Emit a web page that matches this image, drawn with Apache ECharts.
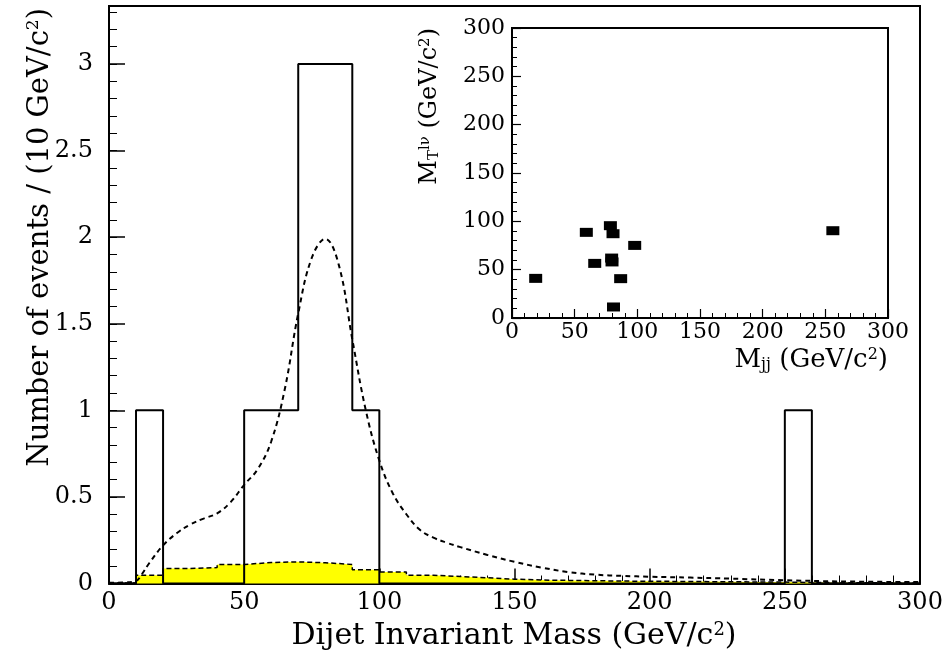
<!DOCTYPE html>
<html><head><meta charset="utf-8">
<script src="https://cdn.jsdelivr.net/npm/echarts@6/dist/echarts.min.js"></script>
<style>html,body{margin:0;padding:0;background:#fff}#c{width:950px;height:653px}</style>
</head><body><div id="c"></div>
<script>
// ---- data ----
const binStart = 0;
const binWidth = 10;
// observed events per 10 GeV bin (0-300)
const dataCounts = [0,1,0,0,0,1,1,3,3,1, 0,0,0,0,0,0,0,0,0,0, 0,0,0,0,0,1,0,0,0,0];
// background expectation per bin (yellow)
const bkgCounts = [0.003,0.048,0.087,0.092,0.11,0.121,0.125,0.12,0.11,0.08,
                   0.067,0.048,0.04,0.033,0.025,0.02,0.018,0.016,0.014,0.013,
                   0.012,0.011,0.01,0.009,0.008,0.006,0.005,0.004,0.004,0.003];
// smooth expectation curve (dashed)
const curveX = [0,5,10,12,15,20,25,30,35,40,45,50,55,60,65,70,75,80,85,90,95,100,105,110,115,120,125,130,140,150,160,170,180,190,200,215,230,250,270,300];
const curveY = [0.004,0.006,0.015,0.05,0.12,0.22,0.29,0.34,0.375,0.405,0.47,0.57,0.66,0.82,1.12,1.56,1.88,1.99,1.84,1.41,1.0,0.71,0.52,0.40,0.31,0.265,0.235,0.21,0.165,0.125,0.092,0.066,0.051,0.044,0.039,0.034,0.028,0.019,0.012,0.008];
// inset scatter: Mjj vs MT(l nu)
const scatterMjj = [18.9,59.3,78.5,80.6,97.9,66,79.5,79.8,86.7,81,256];
const scatterMT  = [41,88.6,95.5,87.2,75.1,56.5,62,58,40.7,11.4,90.3];
// axis ranges
const mainXMax = 300, mainYMax = 3.335, insetMax = 300;

function stepData(vals){
  const out = vals.map((v,i)=>[binStart + i*binWidth, v]);
  out.push([binStart + vals.length*binWidth, vals[vals.length-1]]);
  return out;
}
const curveData = curveX.map((x,i)=>[x, curveY[i]]);
const scatterData = scatterMjj.map((x,i)=>[x, scatterMT[i]]);

const FONT = 'DejaVu Serif';
const black = '#000';
const chart = echarts.init(document.getElementById('c'), null, {renderer:'canvas'});

const supStyle = (fs)=>({fontSize: fs, fontFamily: FONT, fill: black, verticalAlign:'top', lineHeight: fs});
const subStyle = (fs)=>({fontSize: fs, fontFamily: FONT, fill: black, verticalAlign:'bottom', lineHeight: fs});

chart.setOption({
  animation: false,
  backgroundColor: '#fff',
  grid: [
    {left:109, top:6, width:811, height:577.5, show:true, borderColor:black, borderWidth:2, backgroundColor:'#fff'},
    {left:512, top:28, width:376, height:290, show:true, borderColor:black, borderWidth:2, backgroundColor:'#fff', z: 10}
  ],
  xAxis: [
    {type:'value', gridIndex:0, min:0, max:mainXMax, interval:50,
     axisLine:{show:true, lineStyle:{color:black, width:2}},
     axisTick:{show:true, inside:true, length:15, lineStyle:{color:black, width:1.5}},
     minorTick:{show:true, splitNumber:5, length:8, lineStyle:{color:black, width:1}},
     axisLabel:{color:black, fontFamily:FONT, fontSize:24, margin:7},
     splitLine:{show:false}},
    {type:'value', gridIndex:1, min:0, max:insetMax, interval:50, z: 11,
     axisLine:{show:true, lineStyle:{color:black, width:2}},
     axisTick:{show:true, inside:true, length:9, lineStyle:{color:black, width:1.2}},
     minorTick:{show:true, splitNumber:5, length:5, lineStyle:{color:black, width:1}},
     axisLabel:{color:black, fontFamily:FONT, fontSize:22, margin:3},
     splitLine:{show:false}}
  ],
  yAxis: [
    {type:'value', gridIndex:0, position:'left', min:0, max:mainYMax, interval:0.5,
     axisLine:{show:true, lineStyle:{color:black, width:2}},
     axisTick:{show:true, inside:true, length:16, lineStyle:{color:black, width:1.5}},
     axisLabel:{color:black, fontFamily:FONT, fontSize:24, margin:16, showMaxLabel:false},
     splitLine:{show:false}},
    {type:'value', gridIndex:0, position:'left', min:0, max:mainYMax, interval:0.1,
     axisLine:{show:false},
     axisTick:{show:true, inside:true, length:8, lineStyle:{color:black, width:1}},
     axisLabel:{show:false}, splitLine:{show:false}},
    {type:'value', gridIndex:1, position:'left', min:0, max:insetMax, interval:50, z: 11,
     axisLine:{show:true, lineStyle:{color:black, width:2}},
     axisTick:{show:true, inside:true, length:9, lineStyle:{color:black, width:1.2}},
     minorTick:{show:true, splitNumber:5, length:5, lineStyle:{color:black, width:1}},
     axisLabel:{color:black, fontFamily:FONT, fontSize:22, margin:7},
     splitLine:{show:false}}
  ],
  series: [
    {name:'background', type:'line', xAxisIndex:0, yAxisIndex:0, step:'end', symbol:'none',
     data: stepData(bkgCounts), z:2,
     lineStyle:{color:black, width:1.5, type:[5,3]},
     areaStyle:{color:'#ffff00', opacity:1}},
    {name:'expectation', type:'line', xAxisIndex:0, yAxisIndex:0, smooth:0.4, symbol:'none',
     data: curveData, z:3,
     lineStyle:{color:black, width:2, type:[5,4]}},
    {name:'data', type:'line', xAxisIndex:0, yAxisIndex:0, step:'end', symbol:'none',
     data: stepData(dataCounts), z:4,
     lineStyle:{color:black, width:2}},
    {name:'events', type:'scatter', xAxisIndex:1, yAxisIndex:2, symbol:'rect', symbolSize:[13,9],
     data: scatterData, z:12, itemStyle:{color:black, opacity:1}}
  ],
  graphic: [
    {type:'text', x:514, y:636, z:20,
     style:{text:'Dijet Invariant Mass (GeV/c{sup|2})', align:'center', verticalAlign:'middle',
            textAlign:'center', textVerticalAlign:'middle',
            fontSize:30, fontFamily:FONT, fill:black,
            rich:{sup:supStyle(18)}}},
    {type:'text', x:40, y:8, rotation:Math.PI/2, z:20,
     style:{text:'Number of events / (10 GeV/c{sup|2})', align:'right', verticalAlign:'middle',
            textAlign:'right', textVerticalAlign:'middle',
            fontSize:29, fontFamily:FONT, fill:black,
            rich:{sup:supStyle(17)}}},
    {type:'text', x:430, y:28, rotation:Math.PI/2, z:20,
     style:{text:'M{sub|T}{sup|lν} (GeV/c{sup|2})', align:'right', verticalAlign:'middle',
            textAlign:'right', textVerticalAlign:'middle',
            fontSize:24, fontFamily:FONT, fill:black,
            rich:{sup:supStyle(15), sub:subStyle(15)}}},
    {type:'text', x:888, y:360, z:20,
     style:{text:'M{sub|jj} (GeV/c{sup|2})', align:'right', verticalAlign:'middle',
            textAlign:'right', textVerticalAlign:'middle',
            fontSize:26, fontFamily:FONT, fill:black,
            rich:{sup:supStyle(16), sub:subStyle(16)}}}
  ]
});
</script></body></html>
